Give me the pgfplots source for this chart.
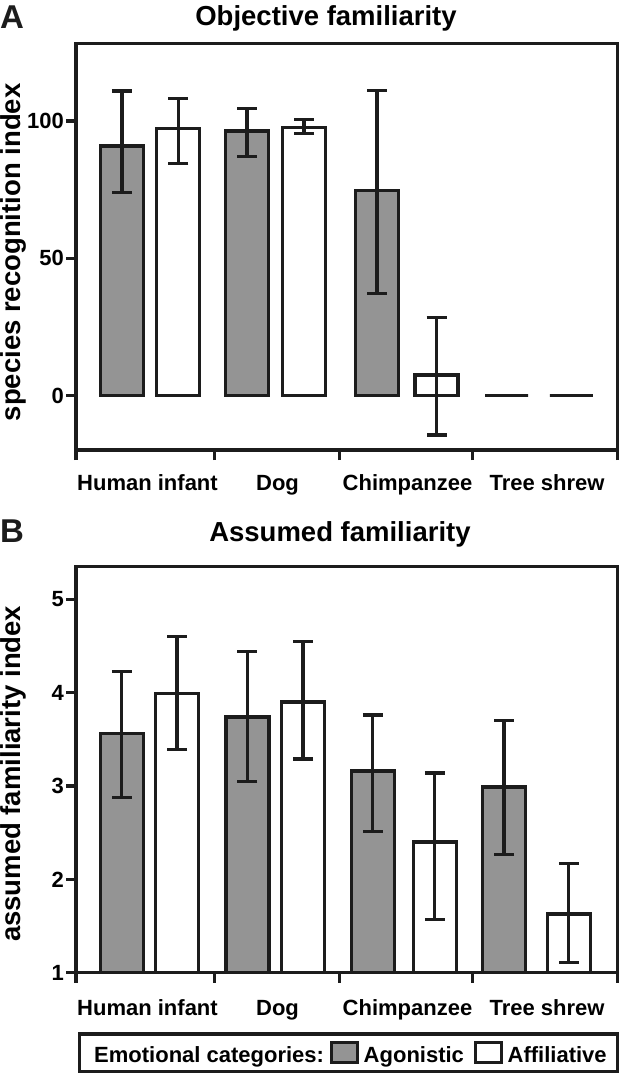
\documentclass[border=0pt]{standalone}
\usepackage{fontspec}
\setmainfont{Liberation Sans}
\usepackage{pgfplots}
\usepackage{pgfplotstable}
\pgfplotsset{compat=1.18}
\definecolor{barfill}{RGB}{148,148,148}
\definecolor{ink}{RGB}{28,28,28}
\newcommand{\tickfont}{\fontsize{22}{24}\selectfont\bfseries}
\newcommand{\labfont}{\fontsize{27.5}{30}\selectfont\bfseries}
\newcommand{\letfont}{\fontsize{33}{36}\selectfont\bfseries}

% Panel A: species recognition index
\pgfplotstableread{
x y ep em
122 90.9 20.0 16.9
247 96.4 8.2 9.2
377 74.6 36.5 37.4
506.5 0 0 0
}\Aagon
\pgfplotstableread{
x y ep em
178.3 97.2 10.9 12.7
304 97.5 3.0 2.1
436.5 7.5 20.9 21.8
571.3 0 0 0
}\Aaffil
% Panel B: assumed familiarity index
\pgfplotstableread{
x y ep em
121.8 3.56 0.67 0.68
247.4 3.74 0.70 0.69
372.8 3.16 0.60 0.65
504 2.99 0.71 0.72
}\Bagon
\pgfplotstableread{
x y ep em
177 3.99 0.61 0.60
303 3.90 0.65 0.61
434.8 2.40 0.74 0.83
568.8 1.63 0.54 0.52
}\Baffil

\pgfplotsset{
  panel/.style={
    scale only axis, width=541.5pt, xmin=76, xmax=617.5,
    axis line style={line width=3.2pt, draw=ink},
    tick pos=left, tick align=outside,
    major tick length=9.5pt, minor tick length=10pt,
    every tick/.style={line width=3.2pt, ink},
    minor tick style={line width=3.2pt, ink},
    major x tick style={draw=none},
    xtick={147.5,277.5,407.5,547},
    xticklabels={Human infant,Dog,Chimpanzee,Tree shrew},
    minor xtick={76,214.5,339.7,472.8,617.5},
    /pgf/number format/assume math mode=true,
    yticklabel style={font=\tickfont, anchor=east, inner sep=0pt, xshift=-2.5pt},
    every axis title/.style={font=\labfont, anchor=base},
    every axis y label/.style={font=\labfont, rotate=90, anchor=base},
  },
  agon/.style={ybar, bar width=43, bar shift=0pt, fill=barfill, draw=ink, line width=3.2pt,
    legend image code/.code={\draw[fill=barfill, draw=ink, line width=3.2pt] (1.5pt,-8.5pt) rectangle (27.5pt,11.5pt);},
    errs},
  affil/.style={ybar, bar width=43, bar shift=0pt, fill=white, draw=ink, line width=3.2pt,
    legend image code/.code={\draw[fill=white, draw=ink, line width=3.2pt] (1.5pt,-8.5pt) rectangle (27.5pt,11.5pt);},
    errs},
  errs/.style={error bars/.cd, y dir=both, y explicit, error mark=|,
    error bar style={line width=3.2pt, ink},
    error mark options={line width=3.2pt, mark size=10pt, ink}},
}

\begin{document}
\begin{tikzpicture}
\useasboundingbox (0,0) rectangle (621pt,-1073pt);
\node[anchor=base west, inner sep=0pt, font=\letfont, text=ink] at (0pt,-28.3pt) {A};
\node[anchor=base west, inner sep=0pt, font=\letfont, text=ink] at (0pt,-542.7pt) {B};

\begin{axis}[panel, at={(76pt,-450pt)}, anchor=south west, height=406.7pt,
  ymin=-19.8, ymax=128.3, ytick={0,50,100},
  xticklabel style={font=\tickfont, anchor=base, inner sep=0pt, yshift=-31pt},
  title={Objective familiarity}, title style={at={(0.4617,1)}, yshift=18.3pt},
  ylabel={species recognition index}, ylabel style={at={(axis description cs:-0.1025,0.486)}},
]
\addplot[agon] table[x=x, y=y, y error plus=ep, y error minus=em] {\Aagon};
\addplot[affil] table[x=x, y=y, y error plus=ep, y error minus=em] {\Aaffil};
\end{axis}

\begin{axis}[panel, at={(76pt,-972.8pt)}, anchor=south west, height=406pt,
  ymin=1, ymax=5.347, ytick={1,2,3,4,5},
  xticklabel style={font=\tickfont, anchor=base, inner sep=0pt, yshift=-33.5pt},
  title={Assumed familiarity}, title style={at={(0.4875,1)}, yshift=25.1pt},
  ylabel={assumed familiarity index}, ylabel style={at={(axis description cs:-0.1025,0.49)}},
  legend columns=-1,
  legend style={at={(0.00277,-0.147)}, anchor=north west, draw=ink, line width=3.2pt, fill=white,
    inner xsep=10.6pt, inner ysep=7pt, font=\tickfont,
    nodes={inner sep=0pt, text height=16pt, text depth=0pt},
    /tikz/every odd column/.style={column sep=4.5pt},
    /tikz/column 1/.style={column sep=2.5pt},
    /tikz/column 2/.style={column sep=6pt},
    /tikz/column 4/.style={column sep=10pt}},
]
\addlegendimage{empty legend}
\addlegendentry{Emotional categories:}
\addplot[agon] table[x=x, y=y, y error plus=ep, y error minus=em] {\Bagon};
\addlegendentry{Agonistic}
\addplot[affil] table[x=x, y=y, y error plus=ep, y error minus=em] {\Baffil};
\addlegendentry{Affiliative}
\end{axis}
\end{tikzpicture}
\end{document}
